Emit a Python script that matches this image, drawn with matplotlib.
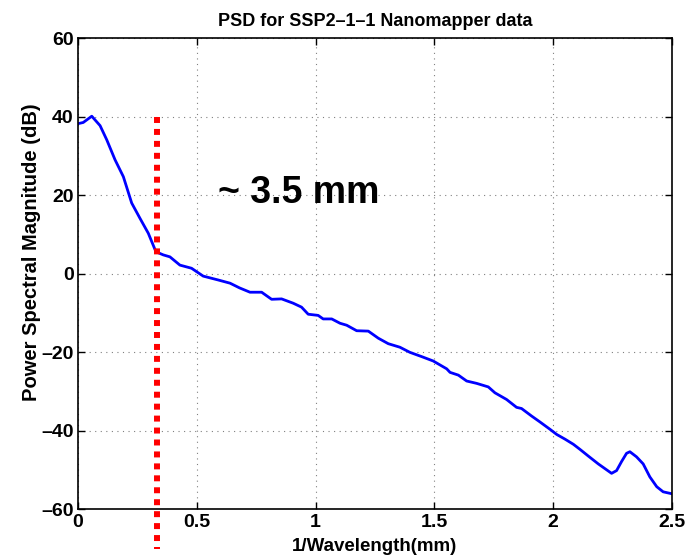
import numpy as np
import matplotlib.pyplot as plt

# PSD curve
freq = [0.0, 0.022, 0.058, 0.093, 0.121, 0.156, 0.191, 0.226, 0.261, 0.296,
        0.328, 0.359, 0.387, 0.429, 0.478, 0.527, 0.591, 0.64, 0.68, 0.724,
        0.773, 0.815, 0.857, 0.906, 0.941, 0.969, 1.011, 1.032, 1.068, 1.103,
        1.131, 1.173, 1.222, 1.264, 1.306, 1.355, 1.397, 1.447, 1.495, 1.552,
        1.566, 1.601, 1.636, 1.678, 1.727, 1.755, 1.804, 1.846, 1.867, 1.909,
        1.944, 1.987, 2.015, 2.05, 2.085, 2.113, 2.148, 2.19, 2.225, 2.246,
        2.267, 2.288, 2.309, 2.323, 2.351, 2.379, 2.407, 2.436, 2.463, 2.5]
psd_db = [38.2, 38.5, 40.1, 37.7, 34.1, 29.0, 24.7, 18.0, 14.1, 10.3,
          5.6, 4.8, 4.3, 2.2, 1.4, -0.6, -1.6, -2.4, -3.6, -4.7,
          -4.7, -6.5, -6.4, -7.5, -8.5, -10.3, -10.6, -11.5, -11.5, -12.6,
          -13.1, -14.5, -14.6, -16.4, -17.8, -18.7, -20.0, -21.1, -22.2, -24.2,
          -25.1, -25.8, -27.3, -27.9, -28.8, -30.3, -32.0, -34.0, -34.3, -36.2,
          -37.7, -39.6, -40.9, -42.1, -43.4, -44.7, -46.4, -48.4, -49.9, -50.8,
          -50.1, -47.8, -45.7, -45.3, -46.6, -48.4, -51.7, -54.2, -55.5, -56.0]

cutoff = 0.334
cutoff_span = [40, -70]
label = "~ 3.5 mm"

plt.rcParams["font.family"] = ["Liberation Sans", "DejaVu Sans"]
plt.rcParams["font.weight"] = "bold"

fig = plt.figure(figsize=(6.92, 5.55), dpi=100)
ax = fig.add_axes([0.1127, 0.082, 0.8583, 0.8495])

ax.plot(freq, psd_db, color="#0000ff", lw=2)
ax.plot([cutoff, cutoff], cutoff_span, color="#ff0000", lw=4.3, ls=(0, (1, 1)),
        clip_on=False)
ax.text(0.59, 20.5, label, fontsize=27, fontweight="bold", va="center")

ax.set_xlim(0, 2.5)
ax.set_ylim(-60, 60)
ax.set_xticks([0, 0.5, 1, 1.5, 2, 2.5])
ax.set_xticklabels(["0", "0.5", "1", "1.5", "2", "2.5"])
ax.set_yticks(range(-60, 61, 20))
ax.set_yticklabels([str(v).replace("-", "\u2013") for v in range(-60, 61, 20)])
ax.grid(True, ls=(0, (1, 4)), color="#808080", lw=0.8)
ax.tick_params(direction="in", top=True, right=True, labelsize=14, length=5,
               width=1, pad=3)
for s in ax.spines.values():
    s.set_linewidth(1.2)

ax.set_title("PSD for SSP2\u20131\u20131 Nanomapper data", fontsize=13,
             fontweight="bold", pad=9)
ax.set_xlabel("1/Wavelength(mm)", fontsize=13.5, fontweight="bold", labelpad=5)
ax.set_ylabel("Power Spectral Magnitude (dB)", fontsize=14.5, fontweight="bold")
ax.yaxis.set_label_coords(-0.062, 0.545)

fig.savefig("out.png", dpi=100, facecolor="white")
